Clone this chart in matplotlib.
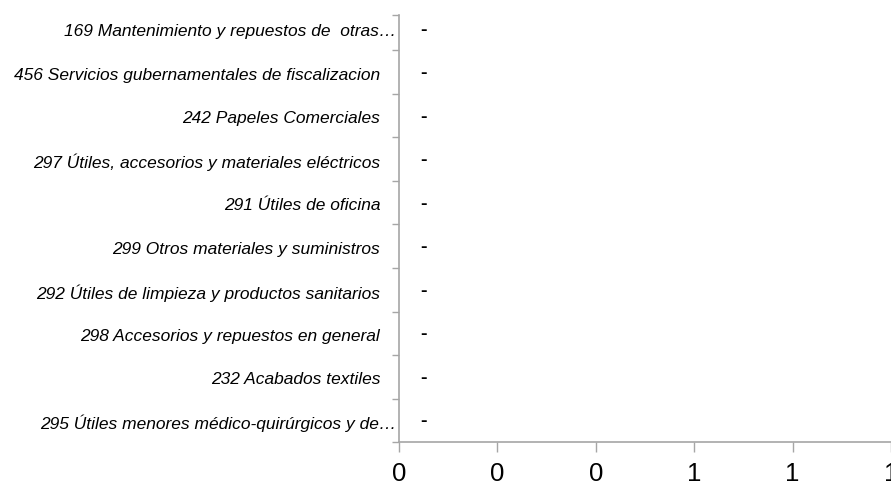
import matplotlib
matplotlib.use("Agg")
import matplotlib.pyplot as plt
from matplotlib.ticker import FixedLocator, FormatStrFormatter
from matplotlib.transforms import ScaledTranslation

categories = [
    "169 Mantenimiento y repuestos de  otras…",
    "456 Servicios gubernamentales de fiscalizacion",
    "242 Papeles Comerciales",
    "297 Útiles, accesorios y materiales eléctricos",
    "291 Útiles de oficina",
    "299 Otros materiales y suministros",
    "292 Útiles de limpieza y productos sanitarios",
    "298 Accesorios y repuestos en general",
    "232 Acabados textiles",
    "295 Útiles menores médico-quirúrgicos y de…",
]
values = [0, 0, 0, 0, 0, 0, 0, 0, 0, 0]
data_labels = ["-"] * 10
xticks = [0, 0.2, 0.4, 0.6, 0.8, 1.0]

plt.rcParams['font.family'] = ['Liberation Sans', 'DejaVu Sans']

fig = plt.figure(figsize=(8.91, 4.86), dpi=100)
top_px, bottom_px = 7, 442
ax = fig.add_axes([399/891, 1 - bottom_px/486, (891 - 399)/891, (bottom_px - top_px)/486])

n = len(categories)
pos = list(range(n))
ax.barh(pos, values, height=0.6, color="#4472c4")
ax.set_ylim(n - 0.5, -0.5)
ax.set_xlim(0, 1.0)

row_px = (bottom_px - top_px) / n
spine_top = -0.5 + 8 / row_px

ax.set_yticks(pos)
ax.set_yticklabels(categories, fontstyle='italic', fontsize=12.5, color='#000000')
ax.yaxis.set_minor_locator(FixedLocator([spine_top] + [i + 0.5 for i in range(n)]))
ax.tick_params(axis='y', which='major', length=0, pad=13.5)
ax.tick_params(axis='y', which='minor', length=5, width=1, color='#a6a6a6', direction='out')
for lab in ax.get_yticklabels():
    dx = 16/100 if lab.get_text().endswith('…') else 0
    lab.set_transform(lab.get_transform() + ScaledTranslation(dx, -1.5/100, fig.dpi_scale_trans))

ax.set_xticks(xticks)
ax.xaxis.set_major_formatter(FormatStrFormatter('%.0f'))
ax.tick_params(axis='x', which='major', length=7, width=1, color='#a6a6a6', labelsize=18.5, pad=7.5, labelcolor='#000000')

for s in ['top', 'right']:
    ax.spines[s].set_visible(False)
for s in ['left', 'bottom']:
    ax.spines[s].set_color('#a6a6a6')
    ax.spines[s].set_linewidth(1.2)
ax.spines['left'].set_bounds(n - 0.5, spine_top)

for p, v, lab in zip(pos, values, data_labels):
    ax.annotate(lab, xy=(v, p), xytext=(15.5, -1), textcoords='offset points',
                ha='left', va='center', fontsize=14, fontweight='bold', color='#000000')

fig.savefig("out.png", dpi=100)
